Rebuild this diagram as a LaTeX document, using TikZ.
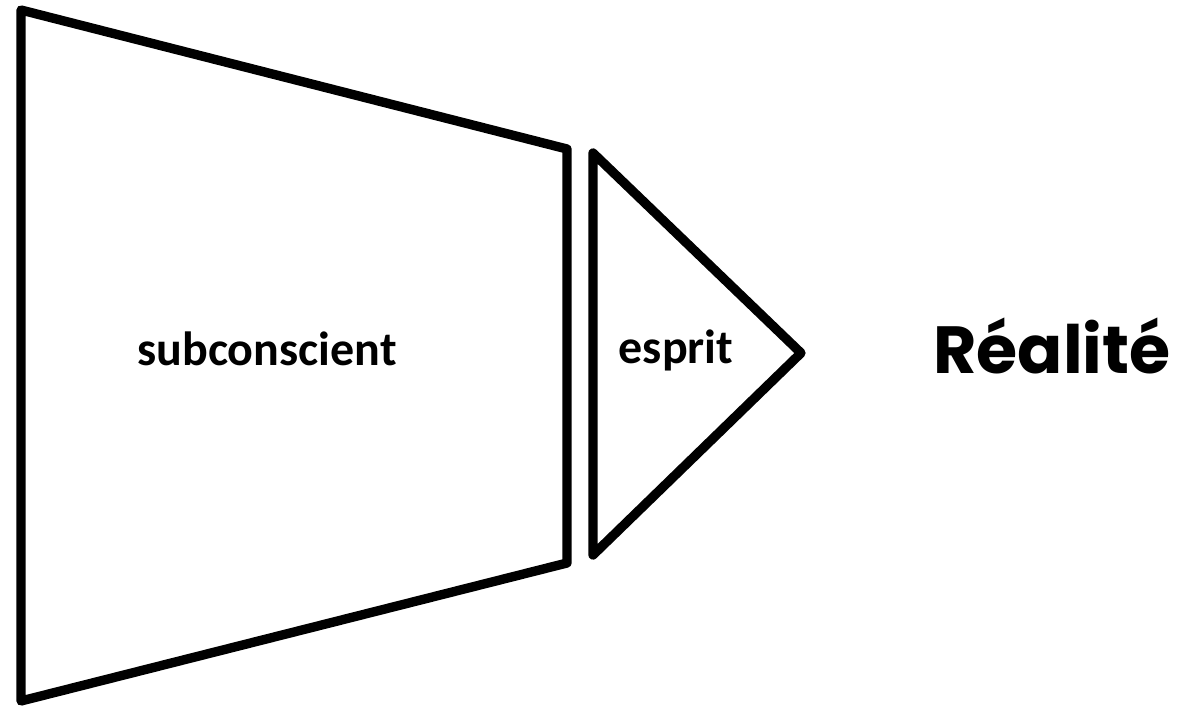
\documentclass[tikz,border=0pt]{standalone}
\usepackage{fontspec}
\setmainfont{Carlito}
\newfontfamily\gothicfont{Poppins}
\usetikzlibrary{positioning}

\begin{document}
\begin{tikzpicture}[
  x=0.75pt,y=-0.75pt,
  outline/.style={draw,line width=7pt,line join=round},
  label/.style={font=\fontsize{36}{40}\selectfont\bfseries,inner sep=0pt,anchor=base},
  reality/.style={font=\gothicfont\fontsize{50}{56}\selectfont\bfseries,inner sep=0pt,anchor=base}
]
\useasboundingbox (0,0) rectangle (1183,707);
% trapeze (subconscient)
\coordinate (tl) at (21,10);
\coordinate (tr) at (567,149);
\coordinate (br) at (567,563);
\coordinate (bl) at (21,701);
\draw[outline] (tl) -- (tr) -- (br) -- (bl) -- cycle;
% triangle (esprit)
\coordinate (ttop) at (593,153);
\coordinate (tapex) at (801,353);
\coordinate (tbot) at (593,555);
\draw[outline] (ttop) -- (tapex) -- (tbot) -- cycle;
\node[label] (sub) at (267,365) {subconscient};
\node[label] (esprit) at (676,363) {esprit};
\node[reality] (realite) at (1052,373) {Réalité};
\end{tikzpicture}
\end{document}
